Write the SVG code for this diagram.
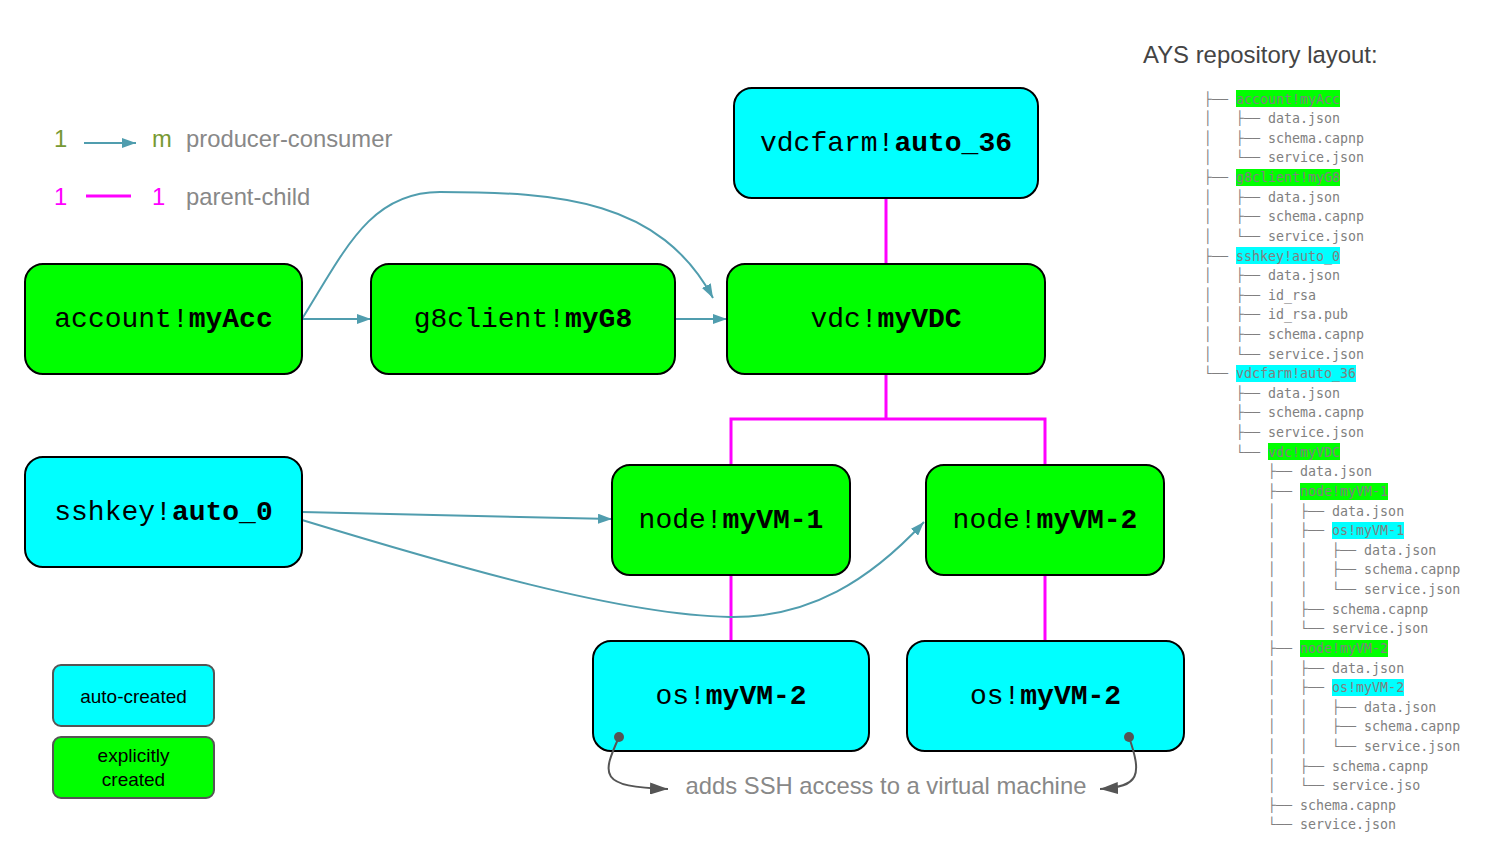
<svg xmlns="http://www.w3.org/2000/svg" width="1486" height="850" viewBox="0 0 1486 850">
<defs>
<style>
.box{stroke:#000;stroke-width:2}
.g{fill:#00ff00}
.c{fill:#00ffff}
.lbl{font-family:"Liberation Mono","Courier New",monospace;font-size:28px;fill:#000;text-anchor:middle}
.lbl .b{font-weight:bold}
.pc{stroke:#ff00ff;stroke-width:3;fill:none}
.pr{stroke:#509dae;stroke-width:2;fill:none;marker-end:url(#ta)}
.note{stroke:#555;stroke-width:2;fill:none;marker-end:url(#ga)}
.sans{font-family:"Liberation Sans",Arial,sans-serif}
.tree{font-family:"DejaVu Sans Mono",monospace;font-size:13.3px;fill:#808080;white-space:pre}
.hg{fill:#00ff00}
.hc{fill:#00ffff}
.leg{stroke:#555;stroke-width:2}
</style>
<marker id="ta" viewBox="0 0 14 10" refX="14" refY="5" markerWidth="14" markerHeight="10" markerUnits="userSpaceOnUse" orient="auto">
<path d="M0,0 L14,5 L0,10 z" fill="#509dae"/>
</marker>
<marker id="ga" viewBox="0 0 18 12" refX="18" refY="6" markerWidth="18" markerHeight="12" markerUnits="userSpaceOnUse" orient="auto">
<path d="M0,0 L18,6 L0,12 z" fill="#555"/>
</marker>
</defs>
<rect width="1486" height="850" fill="#fff"/>

<g id="legend">
<text class="sans" x="54" y="147" font-size="23.8" fill="#779933">1</text>
<line x1="84" y1="143" x2="136" y2="143" class="pr"/>
<text class="sans" x="152" y="147" font-size="23.8" fill="#779933">m</text>
<text class="sans" x="186" y="147" font-size="23.8" fill="#888">producer-consumer</text>
<text class="sans" x="54" y="205" font-size="23.8" fill="#ff00ff">1</text>
<line x1="86" y1="196" x2="131" y2="196" class="pc"/>
<text class="sans" x="152" y="205" font-size="23.8" fill="#ff00ff">1</text>
<text class="sans" x="186" y="205" font-size="23.8" fill="#888">parent-child</text>
</g>

<g id="connectors">
<path class="pc" d="M886,198 V264"/>
<path class="pc" d="M886,374 V419 M731,465 V419 H1045 V465"/>
<path class="pc" d="M731,575 V641"/>
<path class="pc" d="M1045,575 V641"/>
<path class="pr" d="M302,319 H371"/>
<path class="pr" d="M675,319 H727"/>
<path class="pr" d="M302,319 C345,250 370,192 440,192 C560,192 660,200 713,298"/>
<path class="pr" d="M302,512 L612,519"/>
<path class="pr" d="M302,520 C450,565 620,615 730,617 C810,618 870,580 924,522"/>
</g>

<g id="node-vdcfarm">
<rect class="box c" x="734" y="88" width="304" height="110" rx="18"/>
<text class="lbl" x="886" y="151">vdcfarm!<tspan class="b">auto_36</tspan></text>
</g>
<g id="node-account">
<rect class="box g" x="25" y="264" width="277" height="110" rx="18"/>
<text class="lbl" x="163.5" y="327">account!<tspan class="b">myAcc</tspan></text>
</g>
<g id="node-g8client">
<rect class="box g" x="371" y="264" width="304" height="110" rx="18"/>
<text class="lbl" x="523" y="327">g8client!<tspan class="b">myG8</tspan></text>
</g>
<g id="node-vdc">
<rect class="box g" x="727" y="264" width="318" height="110" rx="18"/>
<text class="lbl" x="886" y="327">vdc!<tspan class="b">myVDC</tspan></text>
</g>
<g id="node-sshkey">
<rect class="box c" x="25" y="457" width="277" height="110" rx="18"/>
<text class="lbl" x="163.5" y="520">sshkey!<tspan class="b">auto_0</tspan></text>
</g>
<g id="node-vm1">
<rect class="box g" x="612" y="465" width="238" height="110" rx="18"/>
<text class="lbl" x="731" y="528">node!<tspan class="b">myVM-1</tspan></text>
</g>
<g id="node-vm2">
<rect class="box g" x="926" y="465" width="238" height="110" rx="18"/>
<text class="lbl" x="1045" y="528">node!<tspan class="b">myVM-2</tspan></text>
</g>
<g id="node-os1">
<rect class="box c" x="593" y="641" width="276" height="110" rx="18"/>
<text class="lbl" x="731" y="704">os!<tspan class="b">myVM-2</tspan></text>
</g>
<g id="node-os2">
<rect class="box c" x="907" y="641" width="277" height="110" rx="18"/>
<text class="lbl" x="1045.5" y="704">os!<tspan class="b">myVM-2</tspan></text>
</g>

<g id="note">
<circle cx="619" cy="737" r="5" fill="#555"/>
<circle cx="1129" cy="737" r="5" fill="#555"/>
<path class="note" d="M619,737 C602,775 598,787 668,789"/>
<path class="note" d="M1129,737 C1142,775 1140,787 1100,789"/>
<text class="sans" x="886" y="794" font-size="23.8" fill="#888" text-anchor="middle">adds SSH access to a virtual machine</text>
</g>

<g id="key-auto">
<rect class="leg c" x="53" y="665" width="161" height="61" rx="8"/>
<text class="sans" x="133.5" y="703" font-size="19" fill="#000" text-anchor="middle">auto-created</text>
</g>
<g id="key-explicit">
<rect class="leg g" x="53" y="737" width="161" height="61" rx="8"/>
<text class="sans" x="133.5" y="762" font-size="19" fill="#000" text-anchor="middle">explicitly</text>
<text class="sans" x="133.5" y="786" font-size="19" fill="#000" text-anchor="middle">created</text>
</g>

<g id="repo-layout">
<text class="sans" x="1143" y="63" font-size="23.9" fill="#444">AYS repository layout:</text>
<rect class="hg" x="1236" y="90" width="104" height="17"/>
<rect class="hg" x="1236" y="169" width="104" height="17"/>
<rect class="hc" x="1236" y="247" width="104" height="17"/>
<rect class="hc" x="1236" y="365" width="120" height="17"/>
<rect class="hg" x="1268" y="443" width="72" height="17"/>
<rect class="hg" x="1300" y="483" width="88" height="17"/>
<rect class="hc" x="1332" y="522" width="72" height="17"/>
<rect class="hg" x="1300" y="640" width="88" height="17"/>
<rect class="hc" x="1332" y="679" width="72" height="17"/>
<text class="tree" xml:space="preserve" x="1204" y="103.5">├── account!myAcc</text>
<text class="tree" xml:space="preserve" x="1204" y="123.1">│   ├── data.json</text>
<text class="tree" xml:space="preserve" x="1204" y="142.7">│   ├── schema.capnp</text>
<text class="tree" xml:space="preserve" x="1204" y="162.4">│   └── service.json</text>
<text class="tree" xml:space="preserve" x="1204" y="182.0">├── g8client!myG8</text>
<text class="tree" xml:space="preserve" x="1204" y="201.6">│   ├── data.json</text>
<text class="tree" xml:space="preserve" x="1204" y="221.2">│   ├── schema.capnp</text>
<text class="tree" xml:space="preserve" x="1204" y="240.8">│   └── service.json</text>
<text class="tree" xml:space="preserve" x="1204" y="260.5">├── sshkey!auto_0</text>
<text class="tree" xml:space="preserve" x="1204" y="280.1">│   ├── data.json</text>
<text class="tree" xml:space="preserve" x="1204" y="299.7">│   ├── id_rsa</text>
<text class="tree" xml:space="preserve" x="1204" y="319.3">│   ├── id_rsa.pub</text>
<text class="tree" xml:space="preserve" x="1204" y="338.9">│   ├── schema.capnp</text>
<text class="tree" xml:space="preserve" x="1204" y="358.6">│   └── service.json</text>
<text class="tree" xml:space="preserve" x="1204" y="378.2">└── vdcfarm!auto_36</text>
<text class="tree" xml:space="preserve" x="1204" y="397.8">    ├── data.json</text>
<text class="tree" xml:space="preserve" x="1204" y="417.4">    ├── schema.capnp</text>
<text class="tree" xml:space="preserve" x="1204" y="437.0">    ├── service.json</text>
<text class="tree" xml:space="preserve" x="1204" y="456.7">    └── vdc!myVDC</text>
<text class="tree" xml:space="preserve" x="1204" y="476.3">        ├── data.json</text>
<text class="tree" xml:space="preserve" x="1204" y="495.9">        ├── node!myVM-1</text>
<text class="tree" xml:space="preserve" x="1204" y="515.5">        │   ├── data.json</text>
<text class="tree" xml:space="preserve" x="1204" y="535.1">        │   ├── os!myVM-1</text>
<text class="tree" xml:space="preserve" x="1204" y="554.8">        │   │   ├── data.json</text>
<text class="tree" xml:space="preserve" x="1204" y="574.4">        │   │   ├── schema.capnp</text>
<text class="tree" xml:space="preserve" x="1204" y="594.0">        │   │   └── service.json</text>
<text class="tree" xml:space="preserve" x="1204" y="613.6">        │   ├── schema.capnp</text>
<text class="tree" xml:space="preserve" x="1204" y="633.2">        │   └── service.json</text>
<text class="tree" xml:space="preserve" x="1204" y="652.9">        ├── node!myVM-2</text>
<text class="tree" xml:space="preserve" x="1204" y="672.5">        │   ├── data.json</text>
<text class="tree" xml:space="preserve" x="1204" y="692.1">        │   ├── os!myVM-2</text>
<text class="tree" xml:space="preserve" x="1204" y="711.7">        │   │   ├── data.json</text>
<text class="tree" xml:space="preserve" x="1204" y="731.3">        │   │   ├── schema.capnp</text>
<text class="tree" xml:space="preserve" x="1204" y="751.0">        │   │   └── service.json</text>
<text class="tree" xml:space="preserve" x="1204" y="770.6">        │   ├── schema.capnp</text>
<text class="tree" xml:space="preserve" x="1204" y="790.2">        │   └── service.jso</text>
<text class="tree" xml:space="preserve" x="1204" y="809.8">        ├── schema.capnp</text>
<text class="tree" xml:space="preserve" x="1204" y="829.4">        └── service.json</text>
</g>
</svg>
